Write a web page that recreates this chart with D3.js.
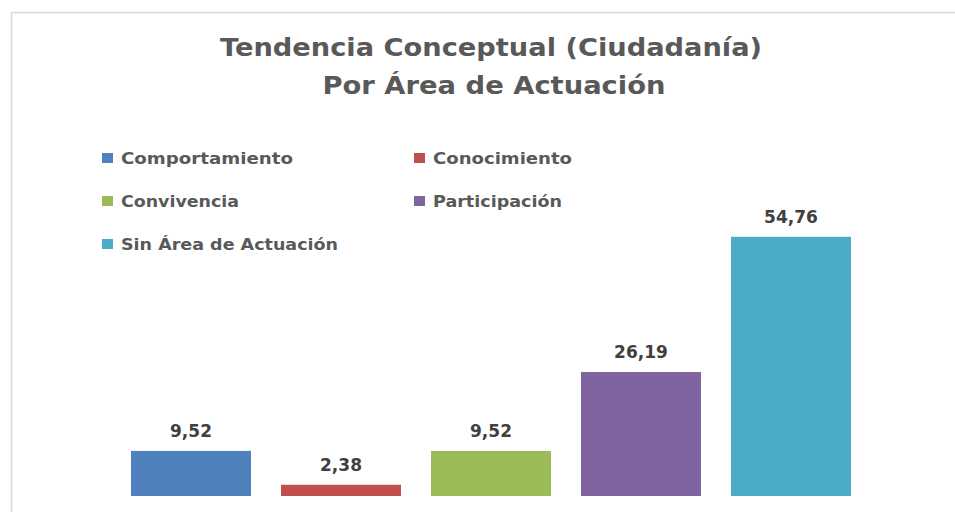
<!DOCTYPE html>
<html>
<head>
<meta charset="utf-8">
<script src="https://cdn.jsdelivr.net/npm/d3@7"></script>
<style>
  body { margin: 0; background: #fff; }
  text { font-family: "DejaVu Sans", Verdana, sans-serif; font-weight: bold; }
</style>
</head>
<body>
<script>
const categories = ["Comportamiento", "Conocimiento", "Convivencia", "Participación", "Sin Área de Actuación"];
const values = [9.52, 2.38, 9.52, 26.19, 54.76];
const colors = ["#4f81bd", "#c0504d", "#9bbb59", "#8064a2", "#4bacc6"];
const titleLines = ["Tendencia Conceptual (Ciudadanía)", "Por Área de Actuación"];

const width = 955;
const height = 512;

const svg = d3.select("body").append("svg")
    .attr("width", width)
    .attr("height", height)
    .attr("viewBox", [0, 0, width, height]);

// chart area border (only top and left are visible in the crop)
svg.append("rect")
    .attr("x", 11.5)
    .attr("y", 12.5)
    .attr("width", 960)
    .attr("height", 520)
    .attr("fill", "#fff")
    .attr("stroke", "#d9d9d9")
    .attr("stroke-width", 1.5);

const x = d3.scaleBand()
    .domain(categories)
    .range([116, 866])
    .paddingInner(0.2)
    .paddingOuter(0.1);

const y = d3.scaleLinear()
    .domain([0, 60])
    .range([496, 212]);

// title
svg.append("text")
    .attr("x", 491)
    .attr("y", 56)
    .attr("text-anchor", "middle")
    .attr("font-size", 25)
    .attr("fill", "#595959")
    .attr("textLength", 542)
    .attr("lengthAdjust", "spacingAndGlyphs")
    .text(titleLines[0]);

svg.append("text")
    .attr("x", 494)
    .attr("y", 94)
    .attr("text-anchor", "middle")
    .attr("font-size", 25)
    .attr("fill", "#595959")
    .attr("textLength", 343)
    .attr("lengthAdjust", "spacingAndGlyphs")
    .text(titleLines[1]);

// legend (two columns)
const legendCols = [102, 414];
const legendRows = [158, 201, 244];
const legendWidths = [172, 139, 118, 129, 217];

const legend = svg.append("g")
    .selectAll("g")
    .data(categories)
    .join("g")
    .attr("transform", (d, i) => `translate(${legendCols[i % 2]},${legendRows[Math.floor(i / 2)]})`);

legend.append("rect")
    .attr("x", 0)
    .attr("y", -5)
    .attr("width", 11)
    .attr("height", 10)
    .attr("fill", (d, i) => colors[i]);

legend.append("text")
    .attr("x", 19)
    .attr("y", 6)
    .attr("font-size", 16)
    .attr("fill", "#595959")
    .attr("textLength", (d, i) => legendWidths[i])
    .attr("lengthAdjust", "spacingAndGlyphs")
    .text(d => d);

// bars
svg.append("g")
    .selectAll("rect")
    .data(values)
    .join("rect")
    .attr("x", (d, i) => x(categories[i]))
    .attr("y", d => y(d))
    .attr("width", x.bandwidth())
    .attr("height", d => y(0) - y(d))
    .attr("fill", (d, i) => colors[i]);

// value labels
const fmt = d => d.toFixed(2).replace(".", ",");
svg.append("g")
    .selectAll("text")
    .data(values)
    .join("text")
    .attr("x", (d, i) => x(categories[i]) + x.bandwidth() / 2)
    .attr("y", d => y(d) - 14)
    .attr("text-anchor", "middle")
    .attr("font-size", 17)
    .attr("fill", "#404040")
    .text(fmt);
</script>
</body>
</html>
